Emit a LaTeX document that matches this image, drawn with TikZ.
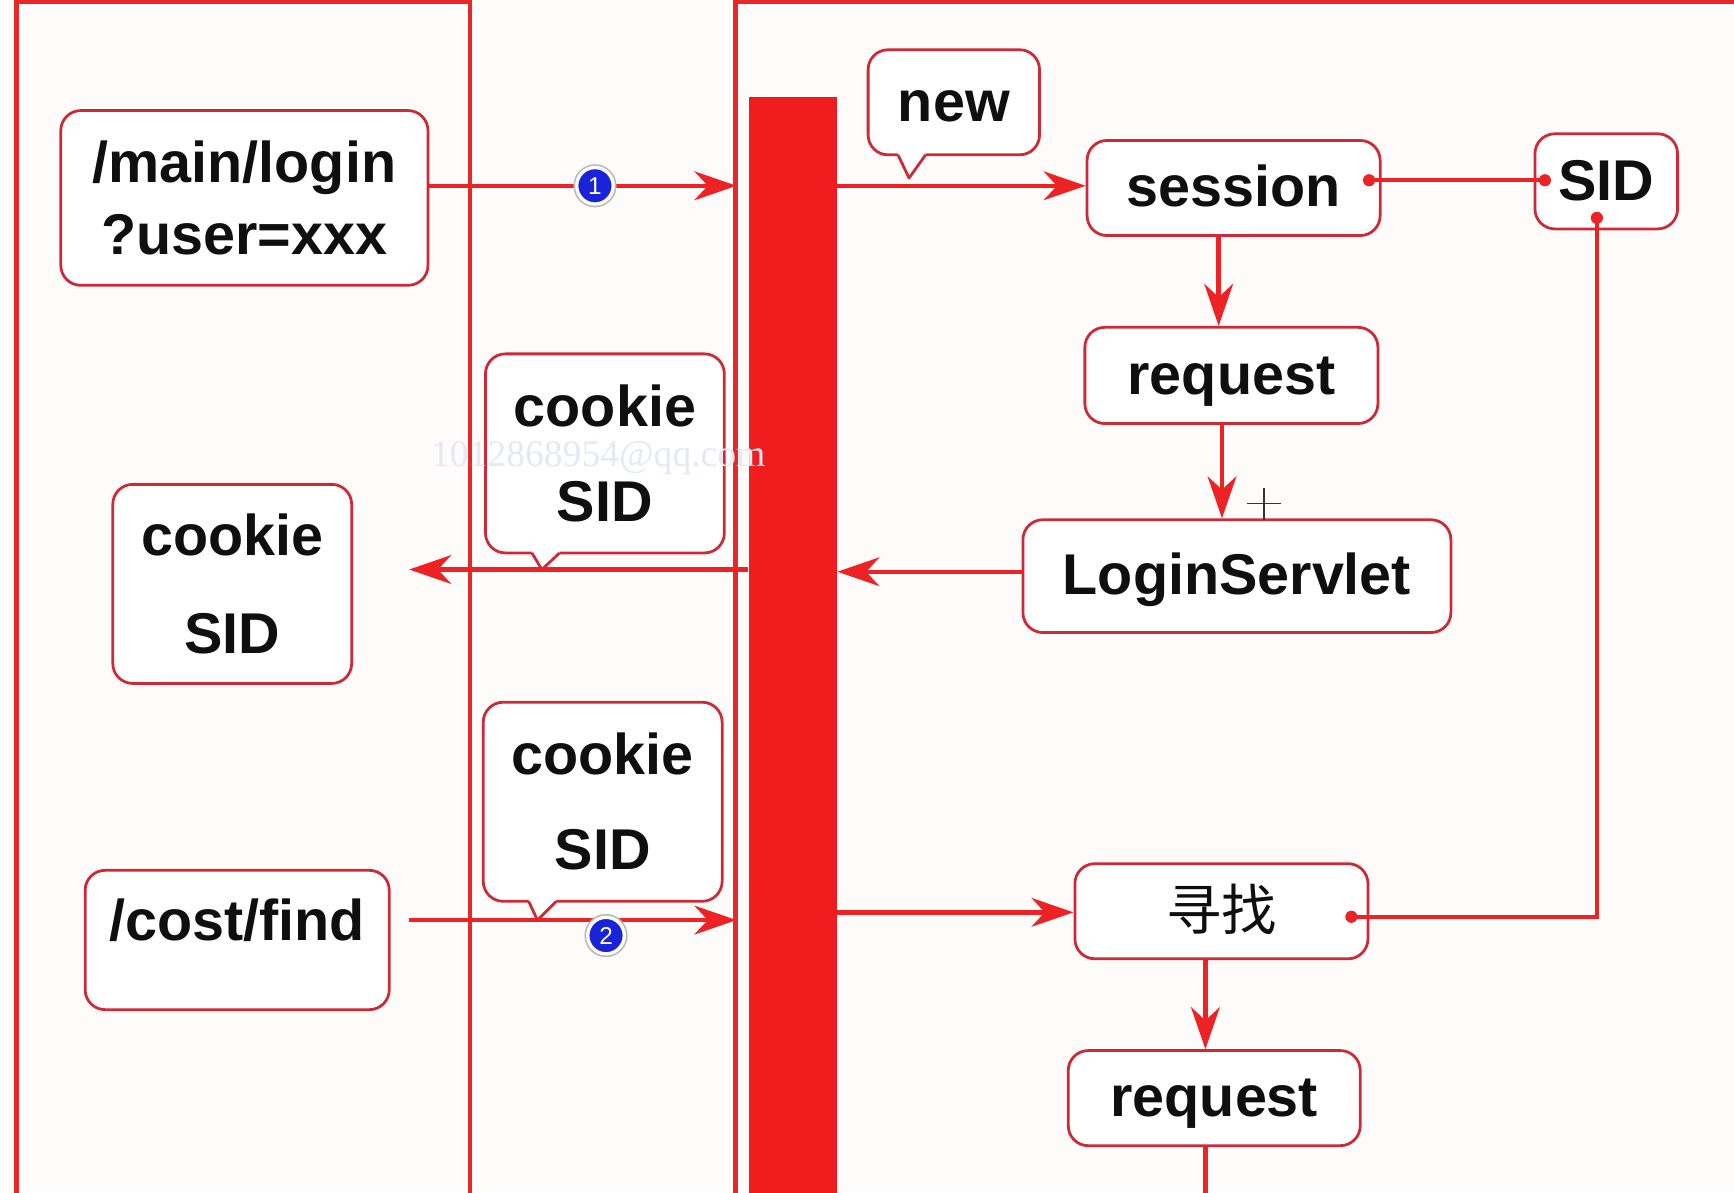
\documentclass[tikz,border=0pt]{standalone}
\usepackage{fontspec}
\setmainfont{Liberation Sans}
\newfontfamily\cjk{Noto Sans CJK SC}
\newfontfamily\wmfont{Liberation Serif}
\usetikzlibrary{arrows.meta,calc}
\definecolor{framered}{RGB}{232,40,40}
\definecolor{barred}{RGB}{240,28,30}
\definecolor{boxred}{RGB}{205,42,55}
\definecolor{linered}{RGB}{236,34,36}
\definecolor{ballblue}{RGB}{25,35,215}
\definecolor{bgc}{RGB}{253,252,250}
\definecolor{txt}{RGB}{15,15,15}
\definecolor{wm}{RGB}{228,233,245}
\newcommand\calltail[5]{%
  \fill[white] (#1,#2-3) -- (#1,#2) -- (#3,#4) -- (#5,#2) -- (#5,#2-3) -- cycle;
  \draw[boxline] (#1,#2) -- (#3,#4) -- (#5,#2);}
\begin{document}
\begin{tikzpicture}[x=1pt,y=-1pt,
  boxline/.style={draw=boxred, line width=2.5pt, line join=round},
  rbox/.style={boxline, rounded corners=18pt, fill=white, inner sep=0pt, align=center,
    text=txt, font=\bfseries\fontsize{52}{60}\selectfont},
  one/.style={text height=40pt, text depth=6pt},
  conn/.style={draw=linered, line width=4pt},
  arr/.style={conn, -{Stealth[length=38pt,width=26pt,inset=12pt]}},
  enddot/.style={circle, fill=linered, inner sep=0pt, minimum size=11pt},
  ballmark/.style={circle, fill=ballblue, draw=white, line width=3pt, minimum size=33pt,
    inner sep=0pt, text=white, font=\fontsize{22}{22}\selectfont,
    preaction={draw=gray!55, line width=6pt}},
  framebox/.style={draw=framered, line width=4pt}]
\useasboundingbox (0,0) rectangle (1568,1078);
\fill[bgc] (0,0) rectangle (1568,1078);
\begin{scope}
\clip (0,0) rectangle (1568,1078);
% frames
\draw[framebox] (15,2) rectangle (425,1120);
\draw[framebox] (665,2) rectangle (1620,1120);
% bar
\node[fill=barred, minimum width=80pt, minimum height=1010pt, inner sep=0pt] (bar) at (717,593) {};
% helper coordinates
\coordinate (rf) at (666,0);
\coordinate (h1) at (0,168);
\coordinate (h2) at (0,517);
\coordinate (h3) at (0,515);
\coordinate (h4) at (0,825);
\coordinate (v1) at (1102,0);
\coordinate (v2) at (1105,0);
\coordinate (v3) at (1090,0);
\coordinate (lt) at (370,515);
\coordinate (ca) at (370,832);
\coordinate (d1) at (1238,163);
\coordinate (d2) at (1397,163);
\coordinate (d3) at (1222,829);
\coordinate (d4) at (1444,197);
\coordinate (bot) at (0,1100);
% nodes
\node[rbox, minimum width=332pt, minimum height=158pt, font=\bfseries\fontsize{52}{65}\selectfont] (login) at (221,179) {/main/login\\?user=xxx};
\node[rbox, one, minimum width=155pt, minimum height=95pt] (newc) at (862.5,92.5) {new};
\calltail{812}{140}{822}{161}{837}
\node[rbox, one, minimum width=265pt, minimum height=86pt] (session) at (1115.5,170) {session};
\node[rbox, one, minimum width=129pt, minimum height=86pt] (sid) at (1452.5,164) {SID};
\node[rbox, one, minimum width=265pt, minimum height=87pt] (req1) at (1113.5,339.5) {request};
\node[rbox, one, minimum width=387pt, minimum height=102pt] (ls) at (1118.5,521) {LoginServlet};
\node[rbox, minimum width=216pt, minimum height=180pt, font=\bfseries\fontsize{52}{86}\selectfont] (ck1) at (547,410) {cookie\\SID};
\calltail{481}{500}{490}{515}{506}
\node[rbox, minimum width=216pt, minimum height=180pt, font=\bfseries\fontsize{52}{88}\selectfont] (ckl) at (210,528) {cookie\\SID};
\node[rbox, minimum width=216pt, minimum height=180pt, font=\bfseries\fontsize{52}{86}\selectfont] (ck2) at (545,725) {cookie\\SID};
\calltail{478}{815}{486}{832}{503}
\node[rbox, minimum width=275pt, minimum height=126pt] (cf) at (214.5,850) {};
\node[text=txt, font=\bfseries\fontsize{52}{60}\selectfont, inner sep=0pt] (cft) at (214.5,832) {/cost/find};
\node[rbox, one, minimum width=265pt, minimum height=86pt, font=\cjk\fontsize{50}{60}\selectfont] (find) at (1104.5,824) {寻找};
\node[rbox, one, minimum width=264pt, minimum height=86pt] (req2) at (1098,993) {request};
% connectors
\draw[arr] (login.east |- h1) -- (rf |- h1);
\draw[arr] (bar.east |- h1) -- (session.west |- h1);
\draw[conn] (d1) -- (d2);
\node[enddot] (e1) at (d1) {};
\node[enddot] (e2) at (d2) {};
\draw[arr] (session.south -| v1) -- (req1.north -| v1);
\draw[arr] (req1.south -| v2) -- (ls.north -| v2);
\draw[arr] (ls.west |- h2) -- (bar.east |- h2);
\draw[arr] (bar.west |- h3) -- (lt);
\draw[arr] (ca) -- (rf |- ca);
\draw[arr] (bar.east |- h4) -- (find.west |- h4);
\draw[conn] (d3) -| (d4);
\node[enddot] (e3) at (d3) {};
\node[enddot] (e4) at (d4) {};
\draw[arr] (find.south -| v3) -- (req2.north -| v3);
\draw[conn] (req2.south -| v3) -- (v3 |- bot);
% markers
\node[ballmark] (m1) at (538,168) {1};
\node[ballmark] (m2) at (548,846) {2};
% watermark and cursor
\node[text=wm, font=\wmfont\fontsize{34}{34}\selectfont, inner sep=0pt] (wmk) at (541,414) {1012868954@qq.com};
\draw[black!80, line width=1pt] (1128,455) -- (1158,455) (1143,441) -- (1143,470);
\end{scope}
\end{tikzpicture}
\end{document}
